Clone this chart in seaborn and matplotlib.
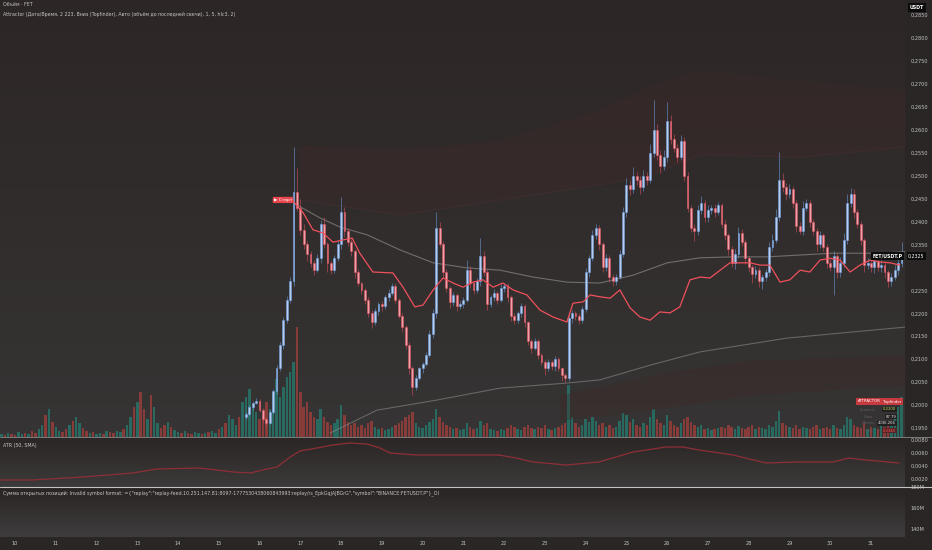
import numpy as np
import pandas as pd
import matplotlib
matplotlib.use('Agg')
import matplotlib.pyplot as plt
import seaborn as sns
from matplotlib.colors import LinearSegmentedColormap
from matplotlib.patches import Rectangle
from matplotlib.lines import Line2D

# ========== данные (2h свечи, день месяца) ==========
FIRST_CANDLE_DAY = 15 + 16 / 24
STEP = 1 / 12
FIRST_OPEN = 0.1975

CLOSE = [
    0.1980, 0.1995, 0.2005, 0.2010, 0.1990, 0.1970, 0.1962, 0.1985, 0.2030, 0.2080,
    0.2130, 0.2185, 0.2230, 0.2270, 0.2465, 0.2430, 0.2382, 0.2350, 0.2330, 0.2310,
    0.2295, 0.2320, 0.2395, 0.2350, 0.2310, 0.2295, 0.2320, 0.2350, 0.2420, 0.2380,
    0.2355, 0.2335, 0.2290, 0.2265, 0.2250, 0.2230, 0.2200, 0.2180, 0.2205, 0.2220,
    0.2215, 0.2235, 0.2245, 0.2260, 0.2230, 0.2195, 0.2170, 0.2130, 0.2080, 0.2040,
    0.2060, 0.2080, 0.2090, 0.2110, 0.2155, 0.2200, 0.2385, 0.2350, 0.2290, 0.2255,
    0.2225, 0.2240, 0.2215, 0.2220, 0.2230, 0.2295, 0.2265, 0.2250, 0.2270, 0.2325,
    0.2290, 0.2220, 0.2235, 0.2245, 0.2230, 0.2255, 0.2260, 0.2235, 0.2195, 0.2185,
    0.2200, 0.2215, 0.2180, 0.2140, 0.2125, 0.2140, 0.2110, 0.2095, 0.2080, 0.2095,
    0.2085, 0.2100, 0.2080, 0.2065, 0.2060, 0.2190, 0.2200, 0.2195, 0.2185, 0.2210,
    0.2290, 0.2320, 0.2370, 0.2385, 0.2350, 0.2300, 0.2320, 0.2280, 0.2270, 0.2280,
    0.2330, 0.2420, 0.2480, 0.2470, 0.2500, 0.2490, 0.2475, 0.2500, 0.2490, 0.2550,
    0.2600, 0.2545, 0.2520, 0.2540, 0.2620, 0.2580, 0.2560, 0.2540, 0.2575, 0.2500,
    0.2430, 0.2385, 0.2380, 0.2425, 0.2440, 0.2410, 0.2425, 0.2430, 0.2420, 0.2435,
    0.2395, 0.2370, 0.2340, 0.2310, 0.2330, 0.2375, 0.2355, 0.2320, 0.2300, 0.2285,
    0.2295, 0.2270, 0.2280, 0.2290, 0.2345, 0.2360, 0.2410, 0.2490, 0.2475, 0.2460,
    0.2470, 0.2440, 0.2390, 0.2380, 0.2430, 0.2440, 0.2400, 0.2380, 0.2350, 0.2370,
    0.2345, 0.2310, 0.2300, 0.2325, 0.2290, 0.2310, 0.2360, 0.2440, 0.2460, 0.2420,
    0.2395, 0.2360, 0.2305, 0.2310, 0.2300, 0.2315, 0.2300, 0.2305, 0.2290, 0.2270,
    0.2280, 0.2295, 0.2310, 0.2325,
]

# верхние / нижние тени, в единицах 0.0001
WICK_UP = [
    4, 6, 3, 5, 4, 3, 5, 4, 6, 8,
    7, 6, 8, 10, 97, 52, 20, 12, 8, 6,
    7, 10, 8, 14, 6, 5, 8, 10, 33, 12,
    6, 8, 5, 7, 4, 6, 5, 8, 6, 5,
    7, 5, 8, 6, 5, 4, 6, 5, 7, 5,
    6, 4, 5, 6, 8, 10, 35, 15, 8, 6,
    5, 7, 4, 6, 5, 21, 8, 5, 6, 39,
    10, 6, 5, 7, 4, 8, 6, 5, 4, 6,
    5, 8, 6, 4, 5, 6, 5, 4, 6, 5,
    4, 6, 5, 4, 5, 12, 8, 6, 5, 7,
    9, 8, 12, 10, 8, 6, 10, 7, 5, 6,
    8, 12, 15, 10, 18, 8, 10, 12, 9, 20,
    65, 12, 10, 15, 40, 12, 10, 8, 14, 10,
    8, 6, 10, 12, 15, 8, 10, 7, 9, 8,
    6, 8, 5, 7, 10, 14, 8, 6, 5, 6,
    8, 5, 6, 7, 10, 12, 18, 62, 15, 10,
    12, 8, 6, 10, 15, 10, 8, 6, 5, 9,
    6, 5, 8, 10, 6, 12, 14, 20, 13, 10,
    8, 6, 5, 10, 6, 8, 5, 12, 6, 5,
    8, 10, 14, 30,
]
WICK_DN = [
    5, 4, 6, 3, 5, 6, 8, 4, 5, 6,
    5, 8, 6, 7, 10, 8, 12, 10, 15, 8,
    12, 6, 10, 8, 20, 10, 8, 6, 10, 14,
    8, 10, 12, 6, 8, 10, 8, 12, 6, 8,
    10, 6, 8, 5, 8, 6, 10, 8, 12, 18,
    8, 6, 10, 5, 6, 8, 10, 6, 12, 8,
    14, 8, 10, 6, 8, 6, 10, 8, 6, 10,
    8, 12, 6, 8, 10, 6, 8, 10, 12, 8,
    6, 8, 10, 8, 12, 6, 10, 8, 14, 6,
    8, 10, 6, 12, 10, 8, 12, 10, 8, 6,
    8, 10, 6, 8, 12, 10, 8, 12, 10, 8,
    6, 8, 10, 12, 8, 10, 14, 8, 10, 6,
    10, 12, 14, 8, 10, 12, 8, 10, 6, 12,
    10, 8, 22, 10, 8, 12, 10, 8, 10, 6,
    8, 10, 12, 8, 14, 10, 8, 12, 10, 20,
    8, 12, 18, 10, 8, 10, 6, 8, 10, 12,
    8, 10, 12, 8, 10, 8, 12, 10, 14, 8,
    10, 12, 8, 60, 12, 10, 8, 10, 8, 12,
    10, 12, 14, 8, 10, 12, 8, 10, 14, 12,
    10, 8, 12, 10,
]

# объём до первой видимой свечи (72 бара) и направление бара (1 = рост)
PRE_VOLUME = [
    3, 2, 4, 3, 2, 5, 3, 4, 3, 6,
    4, 8, 12, 22, 28, 15, 10, 6, 5, 8,
    12, 16, 20, 14, 9, 6, 4, 5, 3, 4,
    3, 6, 5, 4, 6, 5, 8, 12, 20, 30,
    35, 45, 28, 18, 42, 30, 14, 9, 12, 15,
    10, 7, 5, 4, 6, 4, 3, 5, 4, 3,
    4, 5, 6, 4, 8, 10, 14, 22, 18, 12,
    20, 35,
]
PRE_DIR = [
    1, 0, 1, 0, 0, 1, 1, 0, 1, 0,
    0, 1, 1, 0, 1, 0, 1, 1, 0, 0,
    1, 0, 1, 1, 0, 0, 1, 0, 1, 1,
    0, 1, 0, 0, 1, 1, 0, 1, 1, 0,
    1, 0, 0, 1, 0, 1, 1, 0, 0, 1,
    0, 1, 1, 0, 1, 0, 0, 1, 1, 0,
    1, 0, 1, 1, 0, 1, 0, 1, 1, 1,
    0, 1,
]
VOLUME = [
    40, 48, 30, 25, 18, 22, 35, 28, 45, 58,
    40, 50, 60, 65, 75, 110, 45, 30, 35, 25,
    20, 18, 28, 20, 15, 12, 14, 18, 32, 22,
    15, 12, 14, 10, 12, 9, 14, 16, 10, 8,
    9, 7, 8, 10, 12, 14, 16, 20, 22, 25,
    14, 10, 9, 12, 15, 18, 28, 20, 15, 12,
    10, 8, 9, 7, 8, 14, 10, 8, 9, 16,
    12, 14, 8, 7, 6, 8, 7, 9, 12, 10,
    8, 7, 10, 12, 9, 8, 10, 9, 12, 8,
    7, 9, 10, 12, 14, 52, 20, 14, 10, 12,
    18, 15, 20, 16, 12, 14, 10, 12, 9, 10,
    16, 24, 22, 15, 18, 12, 10, 14, 12, 20,
    28, 18, 14, 12, 22, 16, 12, 10, 14, 18,
    20, 15, 12, 10, 12, 8, 9, 7, 8, 9,
    10, 9, 12, 10, 8, 11, 9, 8, 10, 12,
    8, 10, 9, 8, 12, 10, 16, 26, 14, 12,
    10, 9, 12, 8, 10, 9, 8, 10, 12, 8,
    9, 10, 8, 12, 9, 8, 12, 20, 18, 12,
    10, 9, 14, 8, 10, 9, 8, 12, 10, 14,
    12, 18, 30, 40,
]

# линия Attractor
ATTR_DAY = [16.80, 17.07, 17.31, 17.56, 17.80, 18.05, 18.27, 18.46, 18.78, 19.27,
            19.52, 19.81, 20.01, 20.26, 20.50, 20.75, 20.99, 21.24, 21.48, 21.73,
            21.97, 22.22, 22.56, 22.88, 23.20, 23.54, 23.69, 23.94, 24.11, 24.35,
            24.60, 24.84, 25.09, 25.33, 25.58, 25.82, 26.07, 26.31, 26.56, 26.81,
            27.05, 27.30, 27.54, 27.79, 28.03, 28.28, 28.52, 28.77, 29.01, 29.26,
            29.50, 29.75, 29.99, 30.24, 30.49, 30.73, 30.98, 31.22, 31.47, 31.71]
ATTR_PRICE = [0.2447, 0.2419, 0.2382, 0.2375, 0.2355, 0.2360, 0.2364, 0.2331, 0.2290, 0.2288,
              0.2257, 0.2214, 0.2218, 0.2251, 0.2277, 0.2266, 0.2257, 0.2268, 0.2273, 0.2257,
              0.2266, 0.2251, 0.2240, 0.2207, 0.2192, 0.2181, 0.2222, 0.2225, 0.2240, 0.2236,
              0.2233, 0.2251, 0.2212, 0.2192, 0.2185, 0.2203, 0.2201, 0.2214, 0.2273, 0.2279,
              0.2277, 0.2294, 0.2310, 0.2310, 0.2310, 0.2305, 0.2305, 0.2268, 0.2273, 0.2294,
              0.2290, 0.2316, 0.2320, 0.2316, 0.2290, 0.2305, 0.2316, 0.2312, 0.2310, 0.2305]

# серые скользящие
MA_UP_DAY = [16.92, 17.48, 17.97, 18.64, 19.45, 20.26, 21.09, 21.90, 22.71, 23.54,
             24.35, 25.16, 26.00, 26.81, 27.62, 28.45, 29.26, 30.07, 31.15, 31.84]
MA_UP_PRICE = [0.2436, 0.2408, 0.2388, 0.2371, 0.2338, 0.2310, 0.2299, 0.2294, 0.2279, 0.2268,
               0.2266, 0.2283, 0.2310, 0.2321, 0.2323, 0.2323, 0.2327, 0.2331, 0.2331, 0.2334]
MA_LOW_DAY = [17.73, 18.88, 20.35, 21.90, 23.54, 24.35, 25.58, 26.81, 28.94, 31.84]
MA_LOW_PRICE = [0.1939, 0.1989, 0.2011, 0.2037, 0.2048, 0.2055, 0.2087, 0.2116, 0.2146, 0.2170]

# полосы
BAND_UP_DAY = [16.99, 19.45, 21.90, 24.35, 25.58, 26.81, 29.26, 31.84]
BAND_UP_OUTER = [0.2567, 0.2556, 0.2578, 0.2643, 0.2697, 0.2730, 0.2708, 0.2687]
BAND_UP_INNER = [0.2447, 0.2414, 0.2447, 0.2480, 0.2501, 0.2545, 0.2540, 0.2562]
BAND_LO_DAY = [23.37, 25.58, 28.03, 31.84]
BAND_LO_INNER = [0.2022, 0.2066, 0.2098, 0.2109]
BAND_LO_OUTER = [0.1967, 0.1989, 0.2022, 0.2044]

# ATR (50, SMA)
ATR_DAY = [9.63, 10.44, 11.67, 12.89, 13.48, 14.54, 15.35, 15.77, 16.18, 16.43,
           16.75, 16.99, 17.41, 17.80, 18.22, 18.64, 18.95, 19.20, 19.86, 20.50,
           21.06, 21.87, 22.29, 22.71, 23.52, 24.33, 25.16, 25.97, 26.39, 26.78,
           27.62, 28.42, 29.23, 30.07, 30.46, 30.88, 31.69]
ATR_VALUE = [0.00185, 0.00185, 0.00231, 0.00292, 0.00354, 0.00369, 0.00308, 0.00292, 0.00354, 0.00385,
             0.00538, 0.00631, 0.00677, 0.00723, 0.00754, 0.00738, 0.00677, 0.00600, 0.00569, 0.00569,
             0.00569, 0.00569, 0.00523, 0.00462, 0.00415, 0.00462, 0.00615, 0.00692, 0.00692, 0.00646,
             0.00569, 0.00446, 0.00462, 0.00462, 0.00523, 0.00492, 0.00446]

DAY_TICKS = list(range(10, 32))
PRICE_TICKS = [0.2850, 0.2800, 0.2750, 0.2700, 0.2650, 0.2600, 0.2550, 0.2500, 0.2450, 0.2400,
               0.2350, 0.2250, 0.2200, 0.2150, 0.2100, 0.2050, 0.2000, 0.1950]
ATR_TICKS = [0.0080, 0.0060, 0.0040, 0.0020]
OI_TICKS = [180, 160, 140]
LAST_PRICE = 0.2325

TABLE_ROWS = [('Уровень', '0.2200', '#c9dd5a'), ('Сила', '87.79', '#e6e6e6'),
              ('Объём', '4036.266', '#e6e6e6'), ('Цель', '0.2345', '#ff5a60')]

# ========== стиль ==========
sns.set_theme(style='dark')
plt.rcParams['font.family'] = ['DejaVu Sans']
plt.rcParams['axes.unicode_minus'] = False

UP_FACE, UP_EDGE = '#b8cdee', '#6f9fe0'
DN_FACE, DN_EDGE = '#eba2aa', '#e0505d'
VOL_UP, VOL_DN = '#26796c', '#9c3f3c'
TXT = '#c4c4c4'
FS = 3.6

W, H = 932, 550
fig = plt.figure(figsize=(W / 100, H / 100), dpi=100, facecolor='#2a2626')


def px_axes(x0, y0, x1, y1):
    return fig.add_axes([x0 / W, 1 - y1 / H, (x1 - x0) / W, (y1 - y0) / H])


def paint_bg(a, top, bottom):
    cmap = LinearSegmentedColormap.from_list('bg', [top, bottom])
    grad = np.linspace(0, 1, 256)[:, None]
    a.imshow(grad, aspect='auto', cmap=cmap, extent=[0, 1, 0, 1],
             transform=a.transAxes, zorder=-10)


def clean(a):
    for s in a.spines.values():
        s.set_visible(False)
    a.grid(False)


XLIM = (9.632, 31.835)

# ---------- фон + объём ----------
ax_vol = px_axes(0, 0, 905, 437)
paint_bg(ax_vol, '#2d2626', '#363434')
ax = px_axes(0, 0, 905, 437)
ax.patch.set_alpha(0)

n = len(CLOSE)
day = FIRST_CANDLE_DAY + STEP * np.arange(n)
close = np.array(CLOSE)
opn = np.concatenate([[FIRST_OPEN], close[:-1]])
high = np.maximum(opn, close) + np.array(WICK_UP) * 1e-4
low = np.minimum(opn, close) - np.array(WICK_DN) * 1e-4
up = close >= opn

candles = pd.DataFrame({'day': day, 'open': opn, 'close': close, 'high': high, 'low': low, 'up': up})

pre_day = FIRST_CANDLE_DAY - STEP * np.arange(len(PRE_VOLUME), 0, -1)
vol_day = np.concatenate([pre_day, day])
vol = np.concatenate([PRE_VOLUME, VOLUME])
vol_up = np.concatenate([np.array(PRE_DIR) == 1, up])
ax_vol.bar(vol_day, vol, width=0.06, color=np.where(vol_up, VOL_UP, VOL_DN),
           alpha=0.8, linewidth=0)
ax_vol.set_xlim(XLIM)
ax_vol.set_ylim(0, max(vol) * 3.97)
ax_vol.axis('off')

# ---------- полосы и линии ----------
ax.fill_between(BAND_UP_DAY, BAND_UP_INNER, BAND_UP_OUTER, color='#3f2828', alpha=0.35, lw=0, zorder=1)
ax.plot(BAND_UP_DAY, BAND_UP_INNER, color='#4e3434', lw=0.5, alpha=0.5, zorder=1)
ax.fill_between(BAND_LO_DAY, BAND_LO_OUTER, BAND_LO_INNER, color='#3f2828', alpha=0.35, lw=0, zorder=1)

sns.lineplot(x=MA_UP_DAY, y=MA_UP_PRICE, ax=ax, color='#8c8888', lw=0.8, alpha=0.7, zorder=2)
sns.lineplot(x=MA_LOW_DAY, y=MA_LOW_PRICE, ax=ax, color='#8c8888', lw=0.8, alpha=0.6, zorder=2)

# ---------- свечи ----------
edge = np.where(candles['up'], UP_EDGE, DN_EDGE)
face = np.where(candles['up'], UP_FACE, DN_FACE)
ax.vlines(candles['day'], candles['low'], candles['high'], colors=edge, lw=0.5, alpha=0.75, zorder=3)
body = np.maximum(np.abs(candles['close'] - candles['open']), 0.00006)
ax.bar(candles['day'], body, bottom=np.minimum(candles['open'], candles['close']),
       width=0.046, color=face, edgecolor=edge, linewidth=0.4, zorder=4)

sns.lineplot(x=ATTR_DAY, y=ATTR_PRICE, ax=ax, color='#f0505a', lw=0.9, zorder=5)

ax.set_xlim(XLIM)
ax.set_ylim(0.19305, 0.28827)
ax.set_xticks([])
ax.yaxis.tick_right()
ax.set_yticks(PRICE_TICKS)
ax.set_yticklabels([f'{v:.4f}'.replace('.', ',') for v in PRICE_TICKS])
ax.tick_params(axis='y', length=0, pad=4, labelsize=FS, labelcolor=TXT)
ax.set_xlabel('')
ax.set_ylabel('')
clean(ax)

ax.text(16.80, 0.2447, '\u25b6 Старт', ha='right', va='center', fontsize=3.2, color='white',
        bbox=dict(boxstyle='round,pad=0.25', fc='#e5474c', ec='none'), zorder=6)

# ---------- ATR ----------
ax_atr = px_axes(0, 437, 905, 487)
paint_bg(ax_atr, '#2b2525', '#3c3a3a')
sns.lineplot(x=ATR_DAY, y=ATR_VALUE, ax=ax_atr, color='#8e2f36', lw=0.9)
ax_atr.set_xlim(XLIM)
ax_atr.set_ylim(0.00077, 0.00846)
ax_atr.set_xticks([])
ax_atr.yaxis.tick_right()
ax_atr.set_yticks(ATR_TICKS)
ax_atr.set_yticklabels([f'{v:.4f}'.replace('.', ',') for v in ATR_TICKS])
ax_atr.tick_params(axis='y', length=0, pad=4, labelsize=FS, labelcolor=TXT)
ax_atr.set_xlabel('')
ax_atr.set_ylabel('')
clean(ax_atr)

# ---------- Open interest (пусто) ----------
ax_oi = px_axes(0, 487, 905, 537)
paint_bg(ax_oi, '#2a2424', '#3e3d3d')
ax_oi.set_xlim(XLIM)
ax_oi.set_ylim(132.4, 180)
ax_oi.yaxis.tick_right()
ax_oi.set_yticks(OI_TICKS)
ax_oi.set_yticklabels([f'{v}M' for v in OI_TICKS])
ax_oi.set_xticks(DAY_TICKS)
ax_oi.set_xticklabels([str(d) for d in DAY_TICKS])
ax_oi.tick_params(axis='y', length=0, pad=4, labelsize=FS, labelcolor=TXT)
ax_oi.tick_params(axis='x', length=0, pad=3, labelsize=FS, labelcolor=TXT)
clean(ax_oi)

# ---------- разделители ----------
fig.add_artist(Line2D([0, 1], [1 - 437 / H] * 2, color='#8a8a8a', lw=0.6))
fig.add_artist(Line2D([0, 1], [1 - 487 / H] * 2, color='#c4c4c4', lw=0.8))

# ---------- подписи ----------
fig.text(3 / W, 1 - 5 / H, 'Объём · FET', fontsize=3.4, color=TXT, va='center')
fig.text(3 / W, 1 - 14 / H,
         'Attractor (Дата/Время, 2 223, Вниз (Topfinder), Авто (объём до последней свечи), 1, 5, hlc3, 2)',
         fontsize=3.4, color=TXT, va='center')
fig.text(3 / W, 1 - 445 / H, 'ATR (50, SMA)', fontsize=3.4, color=TXT, va='center')
fig.text(3 / W, 1 - 493 / H,
         'Сумма открытых позиций: Invalid symbol format: ={"replay":"replay-feed.10.251.147.81:8097-'
         '1777530438060843993:replay/rs_EpkGqjAJBGrG","symbol":"BINANCE:FETUSDT.P"}_OI',
         fontsize=3.4, color=TXT, va='center')

fig.text(917 / W, 1 - 7.5 / H, 'USDT', fontsize=3.4, color='white', ha='center', va='center',
         fontweight='bold', bbox=dict(boxstyle='square,pad=0.35', fc='#0c0c0c', ec='none'))
fig.text(903 / W, 1 - 256 / H, 'FET/USDT.P', fontsize=3.4, color='white', ha='right', va='center',
         fontweight='bold', bbox=dict(boxstyle='square,pad=0.3', fc='#0c0c0c', ec='none'))
fig.text(908 / W, 1 - 256 / H, f'{LAST_PRICE:.4f}'.replace('.', ','), fontsize=3.4, color='white',
         ha='left', va='center', bbox=dict(boxstyle='square,pad=0.3', fc='#0c0c0c', ec='none'))

# таблица Attractor
fig.add_artist(Rectangle((856 / W, 1 - 405 / H), 47 / W, 7 / H, fc='#c5393f', ec='none'))
fig.text(858 / W, 1 - 401.5 / H, 'ATTRACTOR', fontsize=2.8, color='white', va='center')
fig.text(901 / W, 1 - 401.5 / H, 'Topfinder', fontsize=2.8, color='white', va='center', ha='right')
for k, (lab, val, col) in enumerate(TABLE_ROWS):
    yy = 1 - (409.5 + 7 * k) / H
    fig.text(868 / W, yy, lab, fontsize=2.6, color='#5e5a5a', va='center', ha='center')
    bg = '#5a1f22' if k == 3 else '#221e1e'
    fig.text(896 / W, yy, val, fontsize=2.7, color=col, va='center', ha='right',
             bbox=dict(boxstyle='square,pad=0.2', fc=bg, ec='none', alpha=0.9))

fig.savefig('out.png', dpi=100, facecolor=fig.get_facecolor())
